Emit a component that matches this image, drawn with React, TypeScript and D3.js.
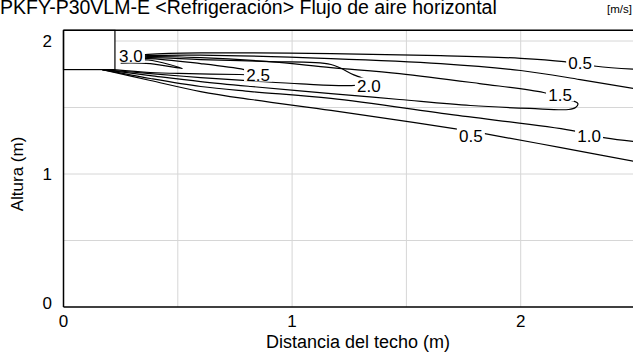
import * as d3 from 'd3'

const title = 'PKFY-P30VLM-E <Refrigeración> Flujo de aire horizontal'
const unitLabel = '[m/s]'
const xTitle = 'Distancia del techo (m)'
const yTitle = 'Altura (m)'

const xTicks = [0, 1, 2]
const yTicks = [0, 1, 2]
const gridX = [0.5, 1, 1.5, 2]
const gridY = [0.5, 1, 1.5, 2]

// indoor unit outline (m)
const unitWidth = 0.225
const unitBottom = 1.785
const ceiling = 2.08

type Pt = [number, number]

// isovelocity lines, [distance, height]
const v05Upper: Pt[] = [[0.25, 1.88], [0.37, 1.9], [0.6, 1.91], [1.17, 1.905], [1.65, 1.89], [2.0, 1.87], [2.19, 1.845], [2.33, 1.81], [2.52, 1.785]]
const v05Lower: Pt[] = [[0.17, 1.785], [0.38, 1.703], [0.6, 1.62], [0.82, 1.56], [1.17, 1.478], [1.47, 1.403], [1.73, 1.335], [1.86, 1.298], [2.17, 1.2], [2.52, 1.088]]
const v10Upper: Pt[] = [[0.25, 1.875], [0.37, 1.89], [0.6, 1.894], [1.17, 1.868], [1.65, 1.83], [2.0, 1.778], [2.26, 1.71], [2.52, 1.635]]
const v10Lower: Pt[] = [[0.17, 1.785], [0.38, 1.718], [0.6, 1.658], [0.82, 1.62], [1.17, 1.568], [1.69, 1.448], [2.22, 1.328], [2.37, 1.271], [2.52, 1.24]]
const v15: Pt[] = [[0.25, 1.868], [0.37, 1.883], [0.6, 1.875], [0.9, 1.845], [1.17, 1.8], [1.47, 1.755], [1.82, 1.68], [2.1, 1.613], [2.19, 1.568], [2.25, 1.53], [2.24, 1.5], [2.21, 1.485], [2.04, 1.493], [1.78, 1.515], [1.47, 1.56], [1.17, 1.605], [0.82, 1.658], [0.6, 1.695], [0.38, 1.74], [0.17, 1.785]]
const v20: Pt[] = [[0.25, 1.86], [0.37, 1.875], [0.6, 1.86], [0.9, 1.845], [1.17, 1.823], [1.27, 1.745], [1.35, 1.688], [1.26, 1.665], [1.04, 1.677], [0.82, 1.7], [0.6, 1.725], [0.38, 1.755], [0.17, 1.785]]
const v25: Pt[] = [[0.25, 1.857], [0.37, 1.868], [0.6, 1.83], [0.79, 1.785], [0.87, 1.748], [0.77, 1.748], [0.55, 1.755], [0.38, 1.763], [0.22, 1.785]]
const v30: Pt[] = [[0.25, 1.853], [0.37, 1.857], [0.52, 1.793], [0.38, 1.83], [0.25, 1.834]]

const lines = [v05Upper, v05Lower, v10Upper, v10Lower, v15, v20, v25, v30]

const labelText = ['3.0', '2.5', '2.0', '1.5', '0.5', '1.0', '0.5']
const labelX = [0.295, 0.851, 1.336, 2.172, 2.26, 2.299, 1.782]
const labelY = [1.89, 1.748, 1.665, 1.598, 1.838, 1.283, 1.29]

const font = "'Liberation Sans', Arial, sans-serif"

export default function App() {
  const width = 633
  const height = 352
  const x = d3.scaleLinear().domain([0, 2.5]).range([63.5, 635])
  const y = d3.scaleLinear().domain([0, 2]).range([307, 41])

  const line = d3
    .line<Pt>()
    .x((d) => x(d[0]))
    .y((d) => y(d[1]))
    .curve(d3.curveCatmullRom.alpha(0.5))

  return (
    <>
      <style>{'body{margin:0}'}</style>
      <svg width={width} height={height} style={{ display: 'block', fontFamily: font }}>
        <rect width={width} height={height} fill="white" />
        <text x={0} y={14} fontSize={19.5}>{title}</text>
        <text x={632} y={13} fontSize={11.5} textAnchor="end">{unitLabel}</text>

        {gridX.map((v) => (
          <line key={'gx' + v} x1={x(v)} x2={x(v)} y1={y(0)} y2={y(ceiling)} stroke="#d6d6d6" strokeWidth={1} />
        ))}
        {gridY.map((v) => (
          <line key={'gy' + v} x1={x(0)} x2={x(2.5)} y1={y(v)} y2={y(v)} stroke="#d6d6d6" strokeWidth={1} />
        ))}

        {lines.map((d, i) => (
          <path key={i} d={line(d) ?? ''} fill="none" stroke="black" strokeWidth={1.2} />
        ))}

        <rect
          x={x(0)}
          y={y(ceiling)}
          width={x(unitWidth) - x(0)}
          height={y(unitBottom) - y(ceiling)}
          fill="white"
          stroke="black"
          strokeWidth={1.2}
        />

        {labelText.map((t, i) => (
          <g key={'l' + i} transform={`translate(${x(labelX[i])},${y(labelY[i])})`}>
            <rect x={-14} y={-8} width={28} height={15} fill="white" />
            <text textAnchor="middle" dy="0.36em" fontSize={17}>{t}</text>
          </g>
        ))}

        <line x1={x(0)} x2={width} y1={y(0)} y2={y(0)} stroke="black" strokeWidth={1.5} />
        <line x1={x(0)} x2={width} y1={y(ceiling)} y2={y(ceiling)} stroke="black" strokeWidth={1.5} />
        <line x1={x(0)} x2={x(0)} y1={y(0)} y2={y(ceiling)} stroke="black" strokeWidth={1.5} />

        {xTicks.map((v) => (
          <text key={'xt' + v} x={x(v)} y={327} fontSize={17} textAnchor="middle">{v}</text>
        ))}
        {yTicks.map((v) => (
          <text key={'yt' + v} x={52} y={y(v) + (v === 0 ? -4 : 0)} dy="0.36em" fontSize={17} textAnchor="end">{v}</text>
        ))}

        <text x={358} y={348} fontSize={18} textAnchor="middle">{xTitle}</text>
        <text transform={`translate(23,${y(1)}) rotate(-90)`} fontSize={17} textAnchor="middle">{yTitle}</text>
      </svg>
    </>
  )
}
